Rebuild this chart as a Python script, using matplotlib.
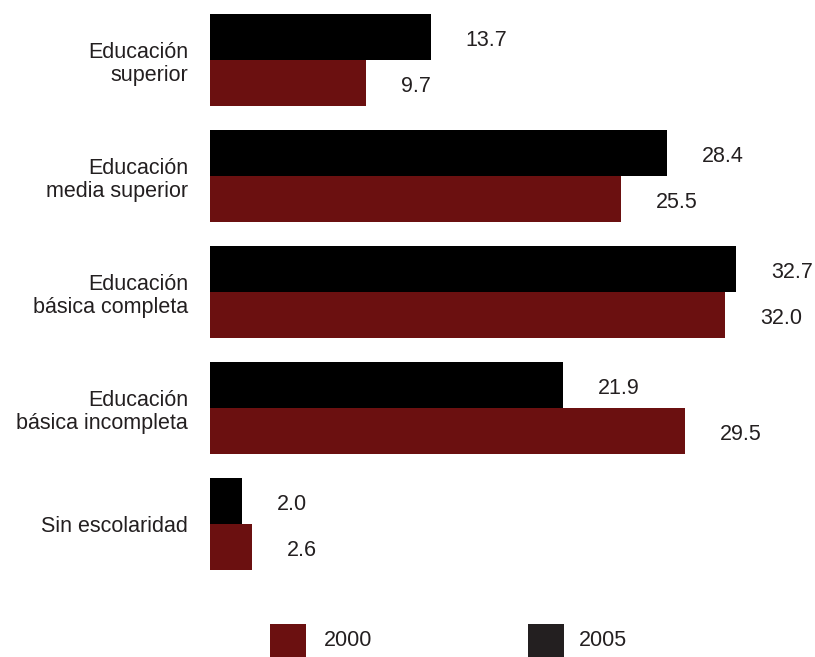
import matplotlib
matplotlib.use("Agg")
import matplotlib.pyplot as plt
from matplotlib.patches import Rectangle

categories = ["Educación\nsuperior", "Educación\nmedia superior", "Educación\nbásica completa",
              "Educación\nbásica incompleta", "Sin escolaridad"]
values_2005 = [13.7, 28.4, 32.7, 21.9, 2.0]
values_2000 = [9.7, 25.5, 32.0, 29.5, 2.6]
labels_2005 = ["13.7", "28.4", "32.7", "21.9", "2.0"]
labels_2000 = ["9.7", "25.5", "32.0", "29.5", "2.6"]
series_names = ["2000", "2005"]

W, H = 815, 657
fig = plt.figure(figsize=(W/100, H/100), dpi=100)
plt.rcParams['font.family'] = ['Liberation Sans', 'DejaVu Sans']
FS = 15.5
txt_color = "#231f20"
red = "#6b1010"
black = "#000000"

# axes: x from 210px to 815px; y from 0 to 600px
ax = fig.add_axes([210/W, 1 - 600/H, (W-210)/W, 600/H])
px_per_unit = 16.1
ax.set_xlim(0, (W-210)/px_per_unit)
pitch = 116.0
ax.set_ylim((600-60)/pitch, -60/pitch)
bh = 46/pitch

ys = list(range(len(categories)))
ax.barh([y - bh/2 for y in ys], values_2005, height=bh, color=black, linewidth=0)
ax.barh([y + bh/2 for y in ys], values_2000, height=bh, color=red, linewidth=0)

off_x = 35 * 0.72
off_y = -3 * 0.72
for y, v, l in zip(ys, values_2005, labels_2005):
    ax.annotate(l, (v, y - bh/2), xytext=(off_x, off_y), textcoords="offset points",
                ha="left", va="center", fontsize=FS, color=txt_color)
for y, v, l in zip(ys, values_2000, labels_2000):
    ax.annotate(l, (v, y + bh/2), xytext=(off_x, off_y), textcoords="offset points",
                ha="left", va="center", fontsize=FS, color=txt_color)

ax.set_yticks(ys)
ax.set_yticklabels(categories, fontsize=FS, color=txt_color, ha="right", multialignment="right",
                   linespacing=1.15)
ax.tick_params(axis="y", length=0, pad=22*0.72)
ax.set_xticks([])
for s in ax.spines.values():
    s.set_visible(False)

# legend
def legend_item(x0, color, label, tx):
    fig.add_artist(Rectangle((x0/W, 1 - 657/H), 36/W, 33/H, transform=fig.transFigure,
                             facecolor=color, edgecolor="none"))
    fig.text(tx/W, 1 - 641/H, label, ha="left", va="center", fontsize=FS, color=txt_color)

legend_item(270, red, series_names[0], 324)
legend_item(528, "#231f20", series_names[1], 579)

fig.savefig("out.png", dpi=100)
